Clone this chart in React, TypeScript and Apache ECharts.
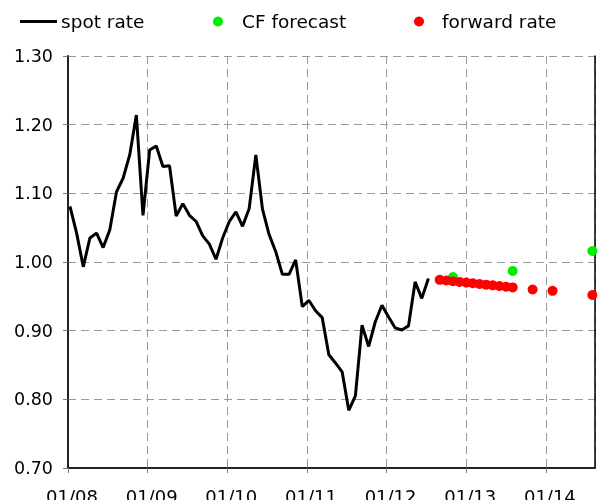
import React, { useEffect, useRef } from "react";
import * as echarts from "echarts";

// Monthly spot rate, starting Jan 2008
const spotRate = [
  1.081, 1.042, 0.993, 1.035, 1.042, 1.021, 1.047, 1.102, 1.122, 1.156,
  1.214, 1.068, 1.163, 1.169, 1.139, 1.14, 1.067, 1.085, 1.068, 1.059,
  1.038, 1.026, 1.004, 1.035, 1.059, 1.073, 1.052, 1.078, 1.156, 1.077,
  1.04, 1.015, 0.982, 0.982, 1.003, 0.935, 0.944, 0.929, 0.919, 0.865,
  0.853, 0.84, 0.784, 0.805, 0.908, 0.877, 0.913, 0.937, 0.92, 0.904,
  0.901, 0.907, 0.971, 0.947, 0.976,
];
const spotStartMonth = 0.3; // months after 01/08 of the first observation

// Forward rates (months after 01/08)
const forwardMonths = [56, 57, 58, 59, 60, 61, 62, 63, 64, 65, 66, 67, 70, 73, 79];
const forwardRate = [
  0.974, 0.973, 0.972, 0.971, 0.97, 0.969, 0.968, 0.967, 0.966, 0.965,
  0.964, 0.963, 0.96, 0.958, 0.952,
];

// Consensus forecasts (months after 01/08)
const cfMonths = [58, 67, 79];
const cfForecast = [0.978, 0.987, 1.016];

const xTickLabels = ["01/08", "01/09", "01/10", "01/11", "01/12", "01/13", "01/14"];
const yMin = 0.7;
const yMax = 1.3;
const yStep = 0.1;
const xMax = 79.4;

export default function App() {
  const ref = useRef<HTMLDivElement>(null);
  useEffect(() => {
    const chart = echarts.init(ref.current!, null, { renderer: "svg" });
    const font = "DejaVu Sans";
    const dash = { color: "#9a9a9a", width: 1, type: [8, 5] as any };
    const legendText = (pad: number) => ({
      fontFamily: font,
      fontSize: 18.5,
      color: "#000",
      padding: [0, 0, 0, pad],
    });
    chart.setOption({
      animation: false,
      textStyle: { fontFamily: font },
      legend: [
        {
          data: [{ name: "spot rate", icon: "rect" }],
          left: 20,
          top: 12,
          padding: 0,
          itemWidth: 37,
          itemHeight: 3,
          textStyle: legendText(-1),
        },
        {
          data: [{ name: "CF forecast", icon: "circle" }],
          left: 213,
          top: 12,
          padding: 0,
          itemWidth: 10,
          itemHeight: 10,
          textStyle: legendText(14),
        },
        {
          data: [{ name: "forward rate", icon: "circle" }],
          left: 414,
          top: 12,
          padding: 0,
          itemWidth: 10,
          itemHeight: 10,
          textStyle: legendText(13),
        },
      ],
      grid: { left: 68, right: 13, top: 56, bottom: 32, containLabel: false, outerBoundsMode: "none" },
      xAxis: {
        type: "value",
        min: 0,
        max: xMax,
        interval: 12,
        axisLine: { show: true, onZero: false, lineStyle: { color: "#222", width: 2 } },
        axisTick: { show: true, length: 5, lineStyle: { color: "#777" } },
        axisLabel: {
          margin: 19,
          fontSize: 18,
          fontFamily: font,
          color: "#000",
          padding: [0, 0, 0, 8],
          showMaxLabel: false,
          formatter: (v: number) => (Math.abs(v % 12) < 1e-6 ? xTickLabels[Math.round(v / 12)] ?? "" : ""),
        },
        splitLine: { show: true, lineStyle: dash },
      },
      yAxis: [
        {
          type: "value",
          min: yMin,
          max: yMax,
          interval: yStep,
          axisLine: { show: true, lineStyle: { color: "#222", width: 2 } },
          axisTick: { show: true, length: 5, lineStyle: { color: "#777" } },
          axisLabel: {
            margin: 15,
            fontSize: 17.5,
            fontFamily: font,
            color: "#000",
            formatter: (v: number) => v.toFixed(2),
          },
          splitLine: { show: true, lineStyle: dash },
        },
        {
          type: "value",
          position: "right",
          min: yMin,
          max: yMax,
          interval: yStep,
          axisLine: { show: true, lineStyle: { color: "#000", width: 1.5 } },
          axisTick: { show: false },
          axisLabel: { show: false },
          splitLine: { show: false },
        },
      ],
      series: [
        {
          name: "spot rate",
          type: "line",
          data: spotRate.map((v, i) => [spotStartMonth + i, v]),
          showSymbol: false,
          symbol: "none",
          lineStyle: { color: "#000", width: 3 },
          itemStyle: { color: "#000" },
        },
        {
          name: "CF forecast",
          type: "scatter",
          data: cfMonths.map((m, i) => [m, cfForecast[i]]),
          symbolSize: 10,
          itemStyle: { color: "#00ee00", opacity: 1 },
        },
        {
          name: "forward rate",
          type: "scatter",
          data: forwardMonths.map((m, i) => [m, forwardRate[i]]),
          symbolSize: 10,
          itemStyle: { color: "#ff0000", opacity: 1 },
        },
      ],
    });
    return () => chart.dispose();
  }, []);
  return <div ref={ref} style={{ position: "fixed", left: 0, top: 0, width: 608, height: 500 }} />;
}
